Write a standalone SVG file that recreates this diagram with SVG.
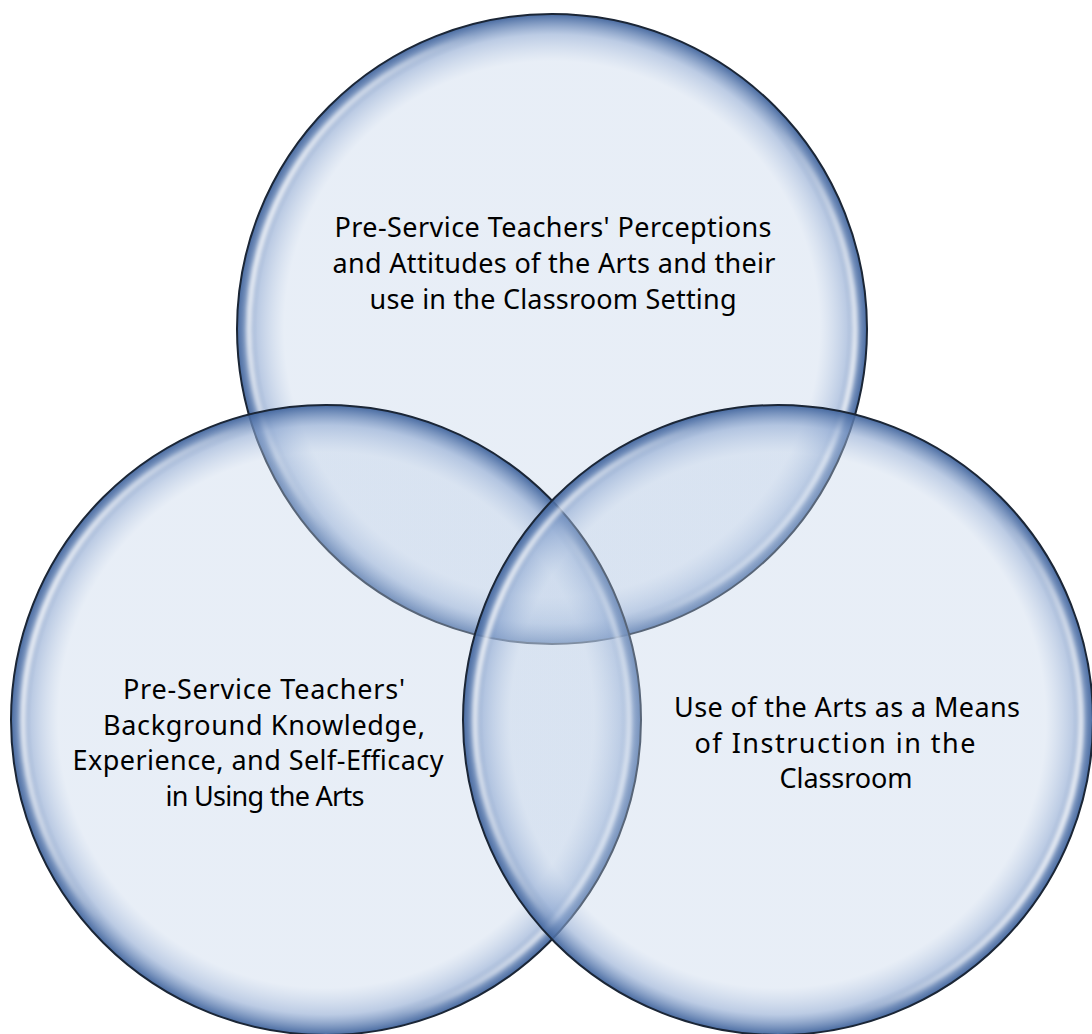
<svg xmlns="http://www.w3.org/2000/svg" width="1092" height="1034" viewBox="0 0 1092 1034">
  <defs>
    <!-- glassy disc: pale translucent centre, blue rim -->
    <radialGradient id="disc" cx="0.5" cy="0.5" r="0.5">
      <stop offset="0" stop-color="#c0d1e8" stop-opacity="0.37"/>
      <stop offset="0.85" stop-color="#c0d1e8" stop-opacity="0.37"/>
      <stop offset="0.935" stop-color="#8fa9d2" stop-opacity="0.6"/>
      <stop offset="1" stop-color="#3f639c" stop-opacity="0.95"/>
    </radialGradient>
    <!-- side reflections on the inner rim -->
    <linearGradient id="shine" x1="0" y1="0.35" x2="1" y2="0.65">
      <stop offset="0" stop-color="#ffffff" stop-opacity="0.95"/>
      <stop offset="0.12" stop-color="#ffffff" stop-opacity="0.6"/>
      <stop offset="0.25" stop-color="#ffffff" stop-opacity="0"/>
      <stop offset="0.75" stop-color="#ffffff" stop-opacity="0"/>
      <stop offset="0.88" stop-color="#ffffff" stop-opacity="0.6"/>
      <stop offset="1" stop-color="#ffffff" stop-opacity="0.95"/>
    </linearGradient>
    <filter id="soft" x="-10%" y="-10%" width="120%" height="120%">
      <feGaussianBlur stdDeviation="2"/>
    </filter>
  </defs>
  <style>
    .disc { fill: url(#disc); stroke: #1b2636; stroke-width: 2; }
    .shine { fill: none; stroke: url(#shine); stroke-width: 5; filter: url(#soft); }
    .label { font-family: "Noto Sans", "Open Sans", sans-serif; font-size: 27px; fill: #000000; text-anchor: middle; }
  </style>

  <rect width="1092" height="1034" fill="#ffffff"/>

  <g id="circle-perceptions">
    <circle class="disc" cx="552" cy="329" r="315"/>
    <circle class="shine" cx="552" cy="329" r="303"/>
  </g>
  <g id="circle-background">
    <circle class="disc" cx="326" cy="720" r="315"/>
    <circle class="shine" cx="326" cy="720" r="303"/>
  </g>
  <g id="circle-instruction">
    <circle class="disc" cx="778" cy="720" r="315"/>
    <circle class="shine" cx="778" cy="720" r="303"/>
  </g>

  <g id="labels">
    <g id="label-perceptions">
      <text class="label" x="553" y="237" textLength="437">Pre-Service Teachers' Perceptions</text>
      <text class="label" x="554" y="273" textLength="443">and Attitudes of the Arts and their</text>
      <text class="label" x="553" y="309" textLength="367">use in the Classroom Setting</text>
    </g>
    <g id="label-background">
      <text class="label" x="264" y="699" textLength="282">Pre-Service Teachers'</text>
      <text class="label" x="264" y="735" textLength="322">Background Knowledge,</text>
      <text class="label" x="258" y="770" textLength="371">Experience, and Self-Efficacy</text>
      <text class="label" x="265" y="806" textLength="199">in Using the Arts</text>
    </g>
    <g id="label-instruction">
      <text class="label" x="847" y="717" textLength="346">Use of the Arts as a Means</text>
      <text class="label" x="835" y="753" textLength="281">of Instruction in the</text>
      <text class="label" x="846" y="788" textLength="133">Classroom</text>
    </g>
  </g>
</svg>
